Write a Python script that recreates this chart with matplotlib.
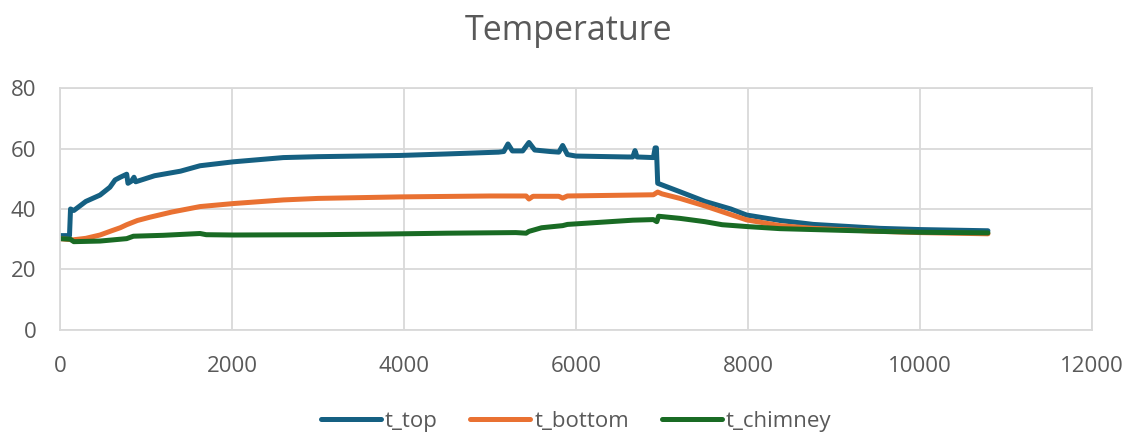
"""Temperature log: top, bottom and chimney sensors over time."""
import matplotlib
matplotlib.use('Agg')
import matplotlib.pyplot as plt

plt.rcParams['font.family'] = ['Open Sans', 'DejaVu Sans']

# --- t_top (time [s], temperature)
top_t = [0, 110, 122, 160, 300, 465, 580, 640, 700, 775, 790, 830, 860, 880,
         1100, 1400, 1628, 2016, 2597, 3000, 3953, 4500, 5100, 5160, 5209, 5260,
         5380, 5453, 5520, 5700, 5800, 5845, 5900, 6000, 6600, 6660, 6686, 6710,
         6900, 6920, 6935, 6950, 7209, 7500, 7800, 7984, 8372, 8760, 9535, 10000,
         10790]
top_v = [31.2, 31.2, 40.0, 39.5, 42.5, 44.6, 47.2, 49.6, 50.5, 51.5, 48.5, 49.2,
         50.5, 49.0, 51.0, 52.5, 54.3, 55.6, 57.0, 57.3, 57.7, 58.2, 58.8, 59.0,
         61.5, 59.2, 59.2, 62.0, 59.5, 59.0, 58.8, 61.0, 58.0, 57.5, 57.2, 57.2,
         59.3, 57.2, 57.0, 60.2, 60.2, 48.5, 45.7, 42.5, 40.0, 38.0, 36.2, 34.9,
         33.6, 33.2, 32.8]

# --- t_bottom
bot_t = [0, 150, 300, 465, 600, 700, 775, 900, 1047, 1300, 1628, 2016, 2597,
         3000, 3953, 5000, 5420, 5453, 5500, 5800, 5845, 5900, 6900, 6950, 7000,
         7209, 7500, 7984, 8372, 8760, 9535, 10000, 10790]
bot_v = [30.2, 29.8, 30.3, 31.4, 32.8, 33.8, 34.8, 36.2, 37.3, 39.0, 40.8, 41.8,
         43.0, 43.5, 44.0, 44.3, 44.3, 43.3, 44.2, 44.2, 43.6, 44.3, 44.7, 45.6,
         45.0, 43.5, 41.0, 36.4, 34.5, 33.6, 32.6, 32.2, 31.8]

# --- t_chimney
chim_t = [0, 120, 160, 465, 775, 853, 1200, 1628, 1700, 2016, 3000, 3721, 4500,
          5300, 5420, 5453, 5600, 5845, 5900, 6660, 6900, 6940, 6960, 7209, 7500,
          7700, 7984, 8372, 8760, 9535, 10000, 10790]
chim_v = [30.2, 30.0, 29.2, 29.4, 30.2, 31.0, 31.3, 31.9, 31.5, 31.4, 31.5, 31.7,
          32.0, 32.2, 32.0, 32.6, 33.8, 34.5, 34.9, 36.3, 36.5, 35.8, 37.6, 36.9,
          35.8, 34.8, 34.2, 33.5, 33.2, 32.6, 32.3, 32.1]

series = [
    ('t_top', top_t, top_v, '#156082'),
    ('t_bottom', bot_t, bot_v, '#E97132'),
    ('t_chimney', chim_t, chim_v, '#196B24'),
]

grey = '#595959'
gridc = '#D9D9D9'

fig = plt.figure(figsize=(11.37, 4.37), dpi=100)
ax = fig.add_axes([0.0528, 0.2449, 0.9076, 0.5537])

for name, t, v, c in series:
    ax.plot(t, v, color=c, lw=3.6, label=name, solid_capstyle='round',
            solid_joinstyle='round')

ax.set_xlim(0, 12000)
ax.set_ylim(0, 80)
ax.set_xticks(range(0, 12001, 2000))
ax.set_yticks(range(0, 81, 20))
ax.grid(True, color=gridc, lw=1.3)
ax.set_axisbelow(True)
for s in ax.spines.values():
    s.set_color(gridc)
    s.set_linewidth(1.3)
ax.tick_params(length=0, labelsize=16, labelcolor=grey)
ax.tick_params(axis='y', pad=17)
ax.tick_params(axis='x', pad=18.5)

fig.text(0.5, 0.9085, 'Temperature', ha='center', va='baseline', fontsize=24.5,
         color=grey)

leg = fig.legend(loc='center', bbox_to_anchor=(0.5066, 0.035), ncol=3,
                 frameon=False, fontsize=16, handlelength=2.7,
                 columnspacing=1.45, handletextpad=0.2)
for txt in leg.get_texts():
    txt.set_color(grey)

fig.savefig('out.png', dpi=100)
